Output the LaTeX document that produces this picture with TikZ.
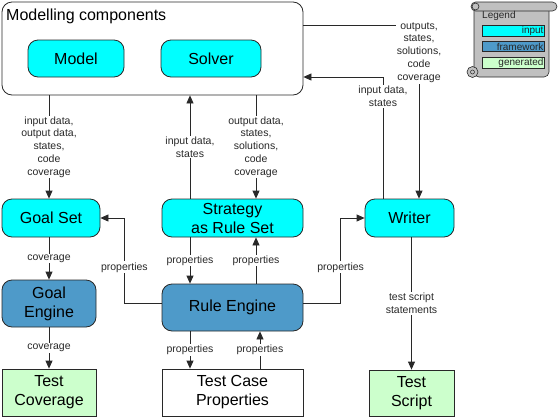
\documentclass[tikz,border=0pt]{standalone}
\usepackage{fontspec}
\setmainfont{Liberation Sans}
\usetikzlibrary{arrows.meta}

\definecolor{inputcol}{RGB}{0,255,255}
\definecolor{frameworkcol}{RGB}{78,154,201}
\definecolor{generatedcol}{RGB}{204,255,204}
\definecolor{linecol}{RGB}{40,40,40}
\definecolor{scrollgrey}{RGB}{192,192,192}

\begin{document}
\begin{tikzpicture}[x=1pt,y=-1pt,
    box/.style={draw=linecol,line width=0.8pt,align=center,inner sep=0pt,
      font=\fontsize{16}{19}\selectfont},
    roundbox/.style={box,rounded corners=10pt},
    conn/.style={draw=linecol,line width=0.8pt,-{Triangle[length=8pt,width=7pt]}},
    legbar/.style={draw=linecol,line width=0.6pt,minimum height=10pt,text width=60pt,
      align=right,inner sep=1pt,font=\fontsize{10}{11}\selectfont,text=linecol}]

      \useasboundingbox (0,0) rectangle (558,418);

      % boxes
      \node[roundbox,minimum width=301pt,minimum height=93pt] (mc) at (152.5,48.5) {};
      \node[anchor=base west,inner sep=0pt,font=\fontsize{16}{19}\selectfont] (mctitle) at (6,20) {Modelling components};
      \node[roundbox,fill=inputcol,minimum width=96pt,minimum height=37pt]  (model)  at (76,58.5)  {Model};
      \node[roundbox,fill=inputcol,minimum width=100pt,minimum height=37pt] (solver) at (211,58.5) {Solver};

      \node[roundbox,fill=inputcol,minimum width=98pt,minimum height=38pt]  (goalset)  at (51,218)    {Goal Set};
      \node[roundbox,fill=inputcol,minimum width=141pt,minimum height=38pt] (strategy) at (232.5,218) {Strategy\\as Rule Set};
      \node[roundbox,fill=inputcol,minimum width=89pt,minimum height=38pt]  (writer)   at (409.5,218) {Writer};

      \node[roundbox,fill=frameworkcol,minimum width=94pt,minimum height=47pt]  (goalengine) at (49,303.5)    {Goal\\Engine};
      \node[roundbox,fill=frameworkcol,minimum width=141pt,minimum height=47pt] (ruleengine) at (232.5,307.5) {Rule Engine};

      \node[box,fill=generatedcol,minimum width=94pt,minimum height=47pt] (testcov)    at (49,392.5)    {Test\\Coverage};
      \node[box,fill=white,minimum width=141pt,minimum height=47pt]        (tcprops)    at (232.5,392.5) {Test Case\\Properties};
      \node[box,fill=generatedcol,minimum width=85pt,minimum height=46pt]  (testscript) at (411.5,393)   {Test\\Script};

      % columns of the vertical connectors
      \coordinate (xa) at (190,0);
      \coordinate (xb) at (256,0);
      \coordinate (xc) at (260,0);

      \begin{scope}[every node/.style={fill=white,inner sep=1pt,align=center,
          font=\fontsize{10.5}{12.8}\selectfont,text=linecol}]

        \begin{scope}[every edge/.style={conn}]
          \path (goalengine.north |- mc.south) edge node {input data,\\output data,\\states,\\code\\coverage} (goalengine.north |- goalset.north);
          \path (xa |- strategy.north) edge node {input data,\\states} (xa |- mc.south);
          \path (xb |- mc.south) edge node {output data,\\states,\\solutions,\\code\\coverage} (xb |- strategy.north);
          \path (goalengine.north |- goalset.south) edge node {coverage} (goalengine.north);
          \path (goalengine.south) edge node {coverage} (testcov.north);
          \path (xa |- strategy.south) edge node {properties} (xa |- ruleengine.north);
          \path (xb |- ruleengine.north) edge node {properties} (xb |- strategy.south);
          \path (xa |- ruleengine.south) edge node {properties} (xa |- tcprops.north);
          \path (xc |- tcprops.north) edge node {properties} (xc |- ruleengine.south);
          \path (testscript.north |- writer.south) edge node {test script\\statements} (testscript.north);
        \end{scope}

        \draw[conn] ([yshift=4.5pt]ruleengine.west) -| node[pos=0.71] {properties} ([xshift=24pt]goalset.east) -- (goalset.east);
        \draw[conn] ([yshift=4.5pt]ruleengine.east) -| node[pos=0.71] {properties} ([xshift=-24pt]writer.west) -- (writer.west);
        \draw[conn] ([xshift=-26.5pt]writer.north) |- node[pos=0.42] {input data,\\states} ([yshift=-28.5pt]mc.east);
        \draw[conn] ([yshift=23.5pt]mc.east) -| node[pos=0.5,anchor=north,yshift=4pt] {outputs,\\states,\\solutions,\\code\\coverage} ([xshift=9.5pt]writer.north);
      \end{scope}

      % legend scroll
      \draw[draw=linecol,fill=scrollgrey,line width=0.6pt] (474,9) -- (549,9) [rounded corners=5pt] -- (549,77) -- (474,77) [sharp corners] -- cycle;
      \draw[draw=linecol,fill=scrollgrey,line width=0.6pt,rounded corners=4.5pt] (471,2) rectangle (557,11);
      \draw[draw=linecol,line width=0.6pt] (475.5,6.5) circle (3.5pt);
      \draw[draw=linecol,fill=scrollgrey,line width=0.6pt] (472.5,72) circle (5.5pt);
      \draw[draw=linecol,line width=0.5pt] (472.5,72) circle (2pt);
      \node[anchor=base west,inner sep=0pt,font=\fontsize{10}{11}\selectfont,text=linecol] (legtitle) at (482,18) {Legend};
      \node[legbar,fill=inputcol]     (leginput)     at (513.5,30.5) {input};
      \node[legbar,fill=frameworkcol] (legframework) at (513.5,46.5) {framework};
      \node[legbar,fill=generatedcol] (leggenerated) at (513.5,62.5) {generated};

    \end{tikzpicture}
\end{document}
